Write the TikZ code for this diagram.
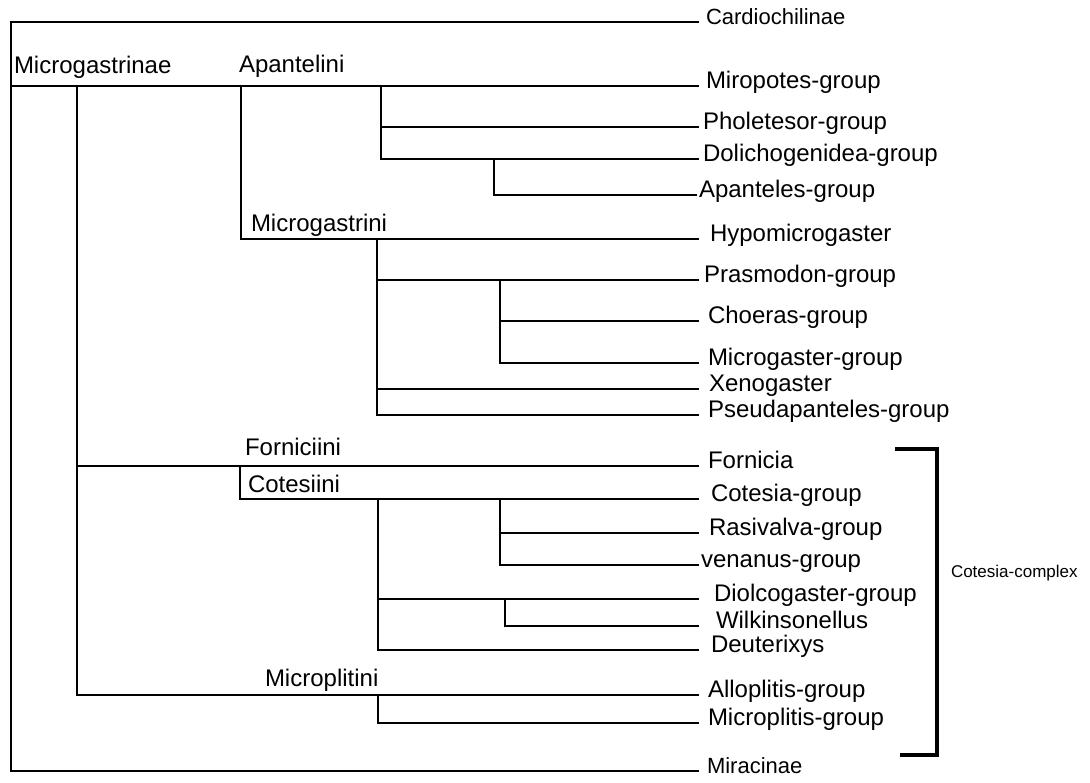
\documentclass[tikz,border=0pt]{standalone}
\usepackage{fontspec}
\setmainfont{Liberation Sans}
\begin{document}
\begin{tikzpicture}[x=1pt,y=-1pt,line width=2pt,
  leaf/.style={anchor=mid west,inner ysep=0pt,inner xsep=#1,font=\fontsize{24}{26}\selectfont},
  leaf/.default=6pt,
  clade/.style={anchor=base west,inner sep=0pt,font=\fontsize{24}{26}\selectfont},
  small/.style={font=\fontsize{22}{24}\selectfont},
  bracketline/.style={line width=3.8pt},
  note/.style={anchor=west,inner sep=0pt,font=\fontsize{17}{19}\selectfont}]
\useasboundingbox (0,0) rectangle (1090,783);

% leaves
\node[leaf=6pt,small] (card) at (699,22) {Cardiochilinae};
\node[leaf=6pt] (miro) at (699,86) {Miropotes-group};
\node[leaf=3pt] (phol) at (699,127) {Pholetesor-group};
\node[leaf=3pt] (doli) at (699,159) {Dolichogenidea-group};
\node[leaf=1pt] (apan) at (697,195) {Apanteles-group};
\node[leaf=10pt] (hypo) at (699,239) {Hypomicrogaster};
\node[leaf=4pt] (pras) at (699,280) {Prasmodon-group};
\node[leaf=8pt] (choe) at (699,321) {Choeras-group};
\node[leaf=8pt] (micg) at (699,363) {Microgaster-group};
\node[leaf=9pt] (xeno) at (699,389) {Xenogaster};
\node[leaf=8pt] (pseu) at (699,415) {Pseudapanteles-group};
\node[leaf=8pt] (forn) at (699,466) {Fornicia};
\node[leaf=11pt] (cote) at (699,499) {Cotesia-group};
\node[leaf=9pt] (rasi) at (699,533) {Rasivalva-group};
\node[leaf=1pt] (vena) at (699,565) {venanus-group};
\node[leaf=14pt] (diol) at (699,599) {Diolcogaster-group};
\node[leaf=16pt] (wilk) at (699,626) {Wilkinsonellus};
\node[leaf=11pt] (deut) at (699,650) {Deuterixys};
\node[leaf=8pt] (allo) at (699,695) {Alloplitis-group};
\node[leaf=8pt] (micp) at (699,723) {Microplitis-group};
\node[leaf=7pt,small] (mira) at (699,771) {Miracinae};

% clade labels
\node[clade] (lmg) at (13,74) {Microgastrinae};
\node[clade] (lap) at (238,73) {Apantelini};
\node[clade] (lmi) at (250,232) {Microgastrini};
\node[clade] (lfo) at (244,456) {Forniciini};
\node[clade] (lco) at (247,492) {Cotesiini};
\node[clade] (lmp) at (264,686) {Microplitini};

% internal points
\coordinate (root) at (11,22);
\coordinate (mg) at (11,86);
\coordinate (mgv) at (77,86);
\coordinate (am) at (241,86);
\coordinate (ap) at (381,86);
\coordinate (dol) at (494,159);
\coordinate (mi) at (377,239);
\coordinate (pr) at (500,280);
\coordinate (fo) at (240,466);
\coordinate (co) at (378,499);
\coordinate (cg) at (500,499);
\coordinate (di) at (505,599);
\coordinate (mp) at (378,695);

% tree
\draw (card.mid west) -- (root) |- (mira.mid west);
\draw (mg) -- (miro.mid west);
\draw (mgv) |- (forn.mid west);
\draw (mgv) |- (allo.mid west);
\draw (am) |- (hypo.mid west);
\draw (ap) |- (phol.mid west);
\draw (ap) |- (doli.mid west);
\draw (dol) |- (apan.mid west);
\draw (mi) |- (pras.mid west);
\draw (mi) |- (xeno.mid west);
\draw (mi) |- (pseu.mid west);
\draw (pr) |- (choe.mid west);
\draw (pr) |- (micg.mid west);
\draw (fo) |- (cote.mid west);
\draw (co) |- (diol.mid west);
\draw (co) |- (deut.mid west);
\draw (cg) |- (rasi.mid west);
\draw (cg) |- (vena.mid west);
\draw (di) |- (wilk.mid west);
\draw (mp) |- (micp.mid west);

% bracket
\coordinate (bt) at (895,449);
\coordinate (btr) at (937,449);
\coordinate (bbr) at (937,755);
\coordinate (bb) at (900,755);
\draw[bracketline] (bt) -- (btr) -- (bbr) -- (bb);
\node[note] (cc) at (950,573) {Cotesia-complex};
\end{tikzpicture}
\end{document}
